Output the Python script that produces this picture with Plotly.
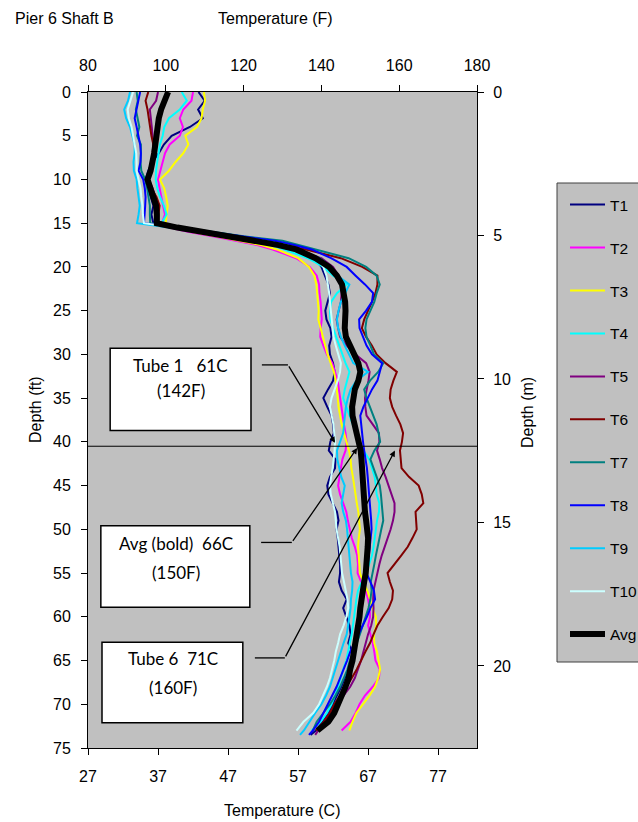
import plotly.graph_objects as go

# Depth of each reading (ft)
DEPTH_FT = [0, 1, 2, 3, 4, 5, 6, 7, 8, 9, 10, 11, 12, 13, 14, 15,
            15.5, 16, 16.5, 17, 17.5, 18,
            19, 20, 21, 22, 23, 24, 25, 26, 27, 28, 29, 30, 31, 32, 33, 34, 35, 36,
            37, 38, 39, 40, 41, 42, 43, 44, 45, 46, 47, 48, 49, 50, 51, 52, 53, 54,
            55, 56, 57, 58, 59, 60, 61, 62, 63, 64, 65, 66, 67, 68, 69, 70, 71, 72, 73,
            73.5]

# Tube temperatures (F) at each depth
T1 = [108.4, 110.0, 108.3, 109.5, 106.2, 101.5, 99.5, 98.2, 96.5, 95.5, 94.8, 95.4, 96.0, 96.8, 96.3, 96.8,
      101.0, 108.0, 115.0, 122.0, 128.5, 133.0,
      138.2, 140.0, 141.0, 141.8, 142.2, 141.5, 141.0, 141.3, 142.3, 142.6, 142.0, 142.2, 143.0, 143.4, 143.0,
      141.7, 140.5, 141.5, 142.6, 143.0, 143.2, 142.3, 141.9, 143.6, 143.5, 142.2, 141.5, 141.8, 142.8, 144.0,
      144.4, 143.9, 144.2, 144.4, 144.6, 144.8, 144.8, 144.5, 145.2, 146.5, 145.6, 146.5, 147.2, 147.5, 146.9,
      148.0, 148.2, 147.5, 146.0, 145.1, 144.0, 143.0, 141.8, 140.3, 138.6,
      137.2]
T2 = [107.0, 106.6, 104.5, 103.6, 104.4, 103.6, 101.0, 99.8, 99.2, 98.6, 98.0, 98.4, 98.8, 99.3, 99.8, 99.0,
      101.0, 106.0, 112.0, 118.0, 123.5, 127.5,
      133.5, 137.0, 138.8, 139.4, 139.5, 139.8, 140.0, 140.1, 139.8, 139.7, 140.5, 141.4, 142.8, 143.6, 144.2,
      144.5, 144.8, 145.1, 145.4, 145.8, 146.2, 146.5, 146.2, 145.4, 145.0, 144.6, 144.3, 144.8, 145.6, 146.4,
      146.8, 147.3, 147.8, 148.6, 149.2, 149.4, 149.3, 150.2, 151.4, 152.0, 152.4, 152.5, 152.0, 152.6, 153.2,
      153.6, 153.9, 155.0, 154.8, 153.2, 151.2, 149.8, 148.8, 147.5, 145.2,
      None]
T3 = [109.8, 110.1, 109.5, 109.2, 108.0, 105.0, 105.8, 104.5, 102.5, 100.8, 98.5, 99.6, 100.1, 100.5, 100.2, 100.0,
      102.0, 107.0, 113.0, 119.0, 124.5, 128.5,
      134.0, 136.8, 138.2, 138.7, 138.9, 139.1, 139.3, 139.2, 139.8, 140.4, 140.9, 141.6, 142.4, 143.2, 143.7,
      144.0, 144.2, 144.4, 144.8, 145.2, 145.8, 146.5, 147.1, 147.5, 147.7, 148.1, 148.4, 148.7, 149.1, 149.5,
      149.7, 149.9, 149.6, 149.4, 149.6, 149.8, 149.9, 150.8, 151.8, 152.5, 153.1, 154.0, 154.1, 153.5, 153.6,
      154.3, 154.7, 155.1, 154.6, 153.8, 152.4, 150.6, 149.0, 148.0, 147.2,
      None]
T4 = [104.1, 105.4, 103.6, 100.8, 99.6, 99.2, 98.5, 98.1, 97.8, 97.5, 97.4, 97.8, 98.5, 99.5, 100.2, 98.9,
      102.0, 108.0, 115.0, 121.5, 127.0, 130.5,
      136.5, 140.5, 143.0, 146.5, 144.0, 142.5, 142.2, 142.3, 143.0, 143.8, 144.4, 145.3, 146.2, 147.2, 146.6,
      146.0, 145.6, 146.4, 147.2, 148.0, 149.0, 149.7, 150.8, 152.3, 153.0, 153.7, 154.0, 154.2, 154.9, 154.8,
      154.3, 154.0, 153.8, 153.4, 153.0, 152.2, 151.5, 150.4, 149.4, 149.0, 148.7, 148.5, 148.2, 147.8, 147.3,
      146.8, 146.4, 145.6, 145.0, 144.3, 143.5, 142.6, 141.4, 139.8, 137.5,
      None]
T5 = [98.0, 97.5, 95.9, 96.2, 96.4, 96.6, 96.8, 96.9, 96.8, 96.2, 95.6, 96.6, 97.4, 98.0, 97.8, 97.6,
      102.0, 108.5, 115.5, 122.0, 128.0, 132.5,
      140.0, 143.0, 144.4, 145.0, 145.2, 145.0, 144.5, 143.9, 144.3, 144.8, 146.5, 148.8, 151.5, 152.4, 152.1,
      151.6, 151.2, 151.3, 151.6, 153.2, 154.8, 154.9, 154.3, 155.0, 155.6, 156.5, 157.3, 158.0, 158.8, 158.8,
      158.4, 157.8, 157.0, 156.3, 155.5, 154.9, 154.4, 153.8, 153.4, 153.3, 153.4, 153.3, 152.8, 152.0, 151.4,
      150.8, 150.2, 149.4, 148.6, 147.4, 145.8, 144.0, 142.2, 140.6, 139.2,
      138.4]
T6 = [95.5, 94.8, 95.3, 95.6, 95.9, 96.3, 96.8, 96.6, 96.4, 95.8, 95.1, 96.3, 97.6, 98.4, 98.1, 98.0,
      103.0, 110.0, 117.0, 124.0, 130.5, 136.0,
      145.0, 150.5, 154.4, 154.4, 153.9, 153.0, 152.0, 151.0, 150.4, 151.5, 153.0, 154.2, 156.5, 159.4, 158.5,
      157.8, 157.6, 158.2, 159.2, 160.3, 161.0, 160.7, 160.2, 160.4, 160.6, 162.5, 165.0, 165.8, 166.2, 164.2,
      164.3, 164.5, 163.4, 162.2, 160.5, 158.7, 157.0, 157.6, 158.4, 158.2, 157.3, 155.8, 154.4, 153.4, 152.5,
      151.3, 150.3, 149.1, 147.8, 146.5, 144.8, 143.3, 142.2, 140.6, 138.6,
      None]
T7 = [92.5, 92.8, 92.3, 92.8, 93.2, 92.6, 93.6, 93.6, 93.5, 93.7, 94.7, 95.2, 95.6, 95.9, 95.9, 96.0,
      104.0, 112.0, 120.0, 130.0, 134.5, 138.5,
      147.0, 151.5, 154.2, 155.0, 154.2, 153.6, 152.6, 151.6, 151.3, 151.6, 152.6, 153.5, 155.9, 154.6, 152.5,
      151.0, 151.6, 152.5, 153.4, 154.2, 154.7, 155.1, 153.6, 152.6, 153.4, 154.3, 155.0, 155.3, 155.5, 155.7,
      155.9, 155.4, 154.9, 154.5, 154.0, 153.6, 153.2, 152.7, 152.9, 152.6, 152.1, 151.4, 150.8, 149.9, 149.1,
      148.2, 147.3, 146.7, 145.8, 144.8, 143.6, 142.2, 140.5, 138.8, 137.8,
      None]
T8 = [93.4, 92.9, 92.4, 92.0, 92.5, 93.0, 93.4, 93.6, 93.5, 93.0, 94.2, 94.6, 94.8, 94.7, 94.5, 94.4,
      103.0, 111.0, 119.0, 128.0, 133.0, 137.5,
      142.5, 146.5, 148.8, 151.2, 153.3, 153.0, 151.5, 149.7, 149.8, 150.6, 151.6, 153.0, 155.6, 155.0, 154.4,
      153.0, 151.8, 150.8, 150.0, 150.2, 150.5, 150.7, 151.0, 151.4, 151.7, 151.9, 152.1, 152.3, 152.5, 152.6,
      152.8, 152.9, 152.7, 152.5, 152.2, 151.9, 151.6, 152.6, 153.5, 153.8, 152.6, 151.7, 150.6, 149.5, 148.6,
      147.4, 146.6, 145.8, 144.8, 143.9, 142.8, 141.5, 140.5, 139.4, 137.8,
      136.8]
T9 = [90.8, 90.3, 89.3, 89.8, 90.8, 91.4, 92.0, 92.0, 91.7, 91.8, 92.5, 92.7, 93.0, 93.3, 93.0, 92.6,
      101.0, 109.0, 117.0, 125.0, 131.0, 134.0,
      139.5, 142.5, 144.2, 147.2, 146.0, 145.0, 144.4, 144.0, 144.3, 145.0, 146.0, 147.0, 148.2, 152.0, 149.0,
      147.5, 146.8, 146.3, 146.0, 145.8, 145.6, 144.9, 144.0, 144.1, 144.6, 145.1, 146.0, 145.6, 145.2, 145.6,
      146.3, 146.6, 146.8, 146.9, 147.1, 147.3, 147.6, 148.0, 147.9, 147.6, 147.5, 147.2, 146.9, 146.5, 145.7,
      145.0, 144.3, 143.6, 142.9, 142.2, 141.2, 140.0, 138.4, 137.0, 135.5,
      134.5]
T10 = [91.6, 90.8, 90.2, 90.5, 91.2, 91.6, 92.0, 92.4, 92.5, 92.5, 93.0, 93.5, 93.7, 94.0, 94.1, 94.4,
       102.0, 109.5, 117.0, 124.0, 129.5, 133.5,
       139.0, 140.5, 141.3, 141.7, 142.0, 142.2, 142.4, 142.6, 142.8, 143.1, 143.7, 144.4, 145.0, 144.8, 144.2,
       143.4, 142.6, 142.2, 142.7, 143.1, 143.3, 143.5, 143.4, 143.2, 142.9, 142.5, 142.2, 142.4, 143.0, 143.5,
       143.7, 143.9, 144.3, 144.7, 144.9, 145.1, 145.3, 145.8, 146.3, 146.7, 146.9, 146.4, 145.7, 144.8, 144.3,
       143.7, 143.3, 142.8, 142.2, 141.4, 140.5, 139.4, 137.9, 135.4, 133.6,
       None]
AVG = [100.6, 99.5, 98.8, 98.2, 97.8, 97.5, 97.3, 97.0, 96.6, 96.1, 95.3, 96.0, 97.0, 97.5, 97.7, 97.7,
       103.0, 109.5, 116.0, 123.0, 129.0, 133.5,
       138.5, 142.0, 144.0, 145.3, 145.8, 146.1, 146.2, 146.0, 146.0, 146.3, 147.3, 148.2, 149.5, 150.0, 149.5,
       148.6, 148.1, 147.9, 148.0, 148.6, 149.1, 149.9, 150.1, 150.3, 150.4, 150.5, 150.6, 150.7, 150.9, 151.2,
       151.5, 151.8, 152.0, 151.9, 151.8, 151.6, 151.4, 151.0, 150.6, 150.2, 150.0, 149.8, 149.5, 149.2, 148.8,
       148.5, 148.0, 147.4, 147.0, 146.2, 145.3, 144.4, 143.3, 141.8, 139.0,
       None]

SERIES_NAMES = ["T1", "T2", "T3", "T4", "T5", "T6", "T7", "T8", "T9", "T10", "Avg"]
SERIES_VALUES = [T1, T2, T3, T4, T5, T6, T7, T8, T9, T10, AVG]
SERIES_COLORS = ["#000080", "#FF00FF", "#FFFF00", "#00FFFF", "#800080", "#800000",
                 "#008080", "#0000FF", "#00CCFF", "#CCFFFF", "#000000"]

# Axis ticks
F_TICKS = [80, 100, 120, 140, 160, 180]
C_TICKS = [27, 37, 47, 57, 67, 77]
FT_TICKS = [0, 5, 10, 15, 20, 25, 30, 35, 40, 45, 50, 55, 60, 65, 70, 75]
M_TICKS = [0, 5, 10, 15, 20]

# Callout box texts
CALLOUTS = [
    ("Tube 1   61C", "(142F)"),
    ("Avg (bold)  66C", "(150F)"),
    ("Tube 6  71C", "(160F)"),
]
MARK_DEPTH_FT = 40.5

W, H = 638, 822
L, R, T, B = 88, 161, 92, 74
PW, PH = W - L - R, H - T - B


def px(x):
    return (x - L) / PW


def py(y):
    return (H - B - y) / PH


FONT = "Liberation Sans, Arial, sans-serif"
BOX_FONT = "Lato, Carlito, Calibri, sans-serif"

fig = go.Figure()
for name, vals, color in zip(SERIES_NAMES, SERIES_VALUES, SERIES_COLORS):
    assert len(vals) == len(DEPTH_FT), name
    fig.add_trace(go.Scatter(
        x=vals, y=DEPTH_FT, mode="lines", name=name, legendgroup=name,
        line=dict(color=color, width=6 if name == "Avg" else 2),
        connectgaps=False, xaxis="x", yaxis="y",
    ))

# Secondary (Celsius / metre) axes carry no marks of their own
fig.add_trace(go.Scatter(x=[], y=[], xaxis="x2", yaxis="y2", showlegend=False,
                         hoverinfo="skip"))

axis_common = dict(showgrid=False, zeroline=False, showline=True, linecolor="black",
                   linewidth=1, ticks="outside", ticklen=6, tickcolor="black",
                   tickfont=dict(family=FONT, size=16, color="black"))

fig.update_layout(
    width=W, height=H,
    margin=dict(l=L, r=R, t=T, b=B, autoexpand=False),
    paper_bgcolor="white", plot_bgcolor="#C0C0C0",
    font=dict(family=FONT, size=16, color="black"),
    xaxis=dict(range=[80, 180], tickvals=F_TICKS, side="top", anchor="y",
               ticklabelstandoff=8, **axis_common),
    xaxis2=dict(range=[27, 27 + 100 / 1.8], tickvals=C_TICKS, side="bottom",
                overlaying="x", anchor="y", ticklabelstandoff=8, **axis_common),
    yaxis=dict(range=[75, 0], tickvals=FT_TICKS, side="left", anchor="x",
               ticklabelstandoff=7, **axis_common),
    yaxis2=dict(range=[75 * 0.3048, 0], tickvals=M_TICKS, side="right",
                overlaying="y", anchor="x", ticklabelstandoff=6, **axis_common),
    legend=dict(x=px(565), y=py(188), xanchor="left", yanchor="top",
                bgcolor="rgba(0,0,0,0)", borderwidth=0, tracegroupgap=19.8,
                itemwidth=35,
                font=dict(family=FONT, size=15.5, color="black")),
    showlegend=True,
)

shapes = []
# legend frame
shapes.append(dict(type="rect", xref="paper", yref="paper", x0=px(557), x1=px(700),
                   y0=py(662), y1=py(183), fillcolor="#C0C0C0",
                   line=dict(color="#404040", width=1), layer="below"))
# marker depth line
shapes.append(dict(type="line", xref="paper", yref="y", x0=0, x1=1,
                   y0=MARK_DEPTH_FT, y1=MARK_DEPTH_FT,
                   line=dict(color="black", width=1), layer="above"))

# callout boxes in data units (F, ft)
BOXES = [(85.7, 121.9, 29.3, 38.7), (83.3, 121.6, 49.6, 58.9), (83.6, 119.8, 62.9, 72.1)]
LEADERS = [  # horizontal run (x0, x1, depth) then arrow to (tip F, tip depth)
    (124.7, 131.4, 31.2, 143.5, 40.1),
    (124.5, 132.4, 51.5, 149.2, 40.7),
    (122.9, 130.6, 64.7, 158.9, 41.0),
]
TEXT_ROWS = [(180.5, 365, 390), (176, 543, 572), (172.5, 658, 687)]

annotations = []
for (bx0, bx1, by0, by1), (hx0, hx1, hy, tx, ty), (cx, r1, r2), (l1, l2) in zip(
        BOXES, LEADERS, TEXT_ROWS, CALLOUTS):
    shapes.append(dict(type="rect", xref="x", yref="y", x0=bx0, x1=bx1, y0=by0, y1=by1,
                       fillcolor="white", line=dict(color="black", width=1.5),
                       layer="above"))
    shapes.append(dict(type="line", xref="x", yref="y", x0=hx0, x1=hx1, y0=hy, y1=hy,
                       line=dict(color="black", width=1.3), layer="above"))
    annotations.append(dict(x=tx, y=ty, xref="x", yref="y", ax=hx1, ay=hy,
                            axref="x", ayref="y", text="", showarrow=True,
                            arrowhead=2, arrowsize=0.9, arrowwidth=1.3,
                            arrowcolor="black", standoff=0, startstandoff=0))
    for txt, row in ((l1, r1), (l2, r2)):
        annotations.append(dict(x=px(cx), y=py(row), xref="paper", yref="paper",
                                text=txt, showarrow=False, xanchor="center",
                                yanchor="middle",
                                font=dict(family=BOX_FONT, size=17, color="black")))

titles = [
    ("Pier 6 Shaft B", 13, 18, "left", 0),
    ("Temperature (F)", 275, 18, "center", 0),
    ("Temperature (C)", 282, 810, "center", 0),
    ("Depth (ft)", 35, 410, "center", -90),
    ("Depth (m)", 527, 413, "center", -90),
]
for txt, x, y, anchor, ang in titles:
    annotations.append(dict(x=px(x), y=py(y), xref="paper", yref="paper", text=txt,
                            showarrow=False, xanchor=anchor, yanchor="middle",
                            textangle=ang, font=dict(family=FONT, size=16, color="black")))

fig.update_layout(shapes=shapes, annotations=annotations)
fig.write_html("out.html")
